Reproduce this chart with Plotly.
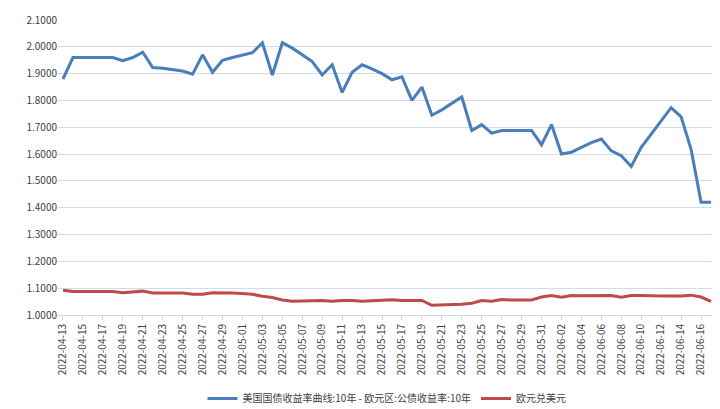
import plotly.graph_objects as go
import pandas as pd

dates = [d.strftime("%Y-%m-%d") for d in pd.date_range("2022-04-13", "2022-06-17")]
spread = [1.88, 1.96, 1.96, 1.96, 1.96, 1.96, 1.948, 1.96, 1.98, 1.923, 1.92, 1.915, 1.91, 1.898,
          1.97, 1.905, 1.95, 1.96, 1.97, 1.978, 2.015, 1.895, 2.015, 1.995, 1.97, 1.945, 1.895,
          1.933, 1.83, 1.905, 1.933, 1.918, 1.9, 1.877, 1.888, 1.80, 1.85, 1.745, 1.765, 1.79,
          1.813, 1.688, 1.71, 1.678, 1.688, 1.688, 1.688, 1.688, 1.635, 1.71, 1.60, 1.607, 1.625,
          1.643, 1.656, 1.612, 1.594, 1.554, 1.625, 1.675, 1.725, 1.773, 1.739, 1.618, 1.42, 1.42]
eurusd = [1.092, 1.088, 1.088, 1.088, 1.088, 1.088, 1.083, 1.085, 1.089, 1.082, 1.082, 1.082, 1.082,
          1.077, 1.077, 1.083, 1.083, 1.082, 1.08, 1.077, 1.07, 1.065, 1.056, 1.051, 1.052, 1.053,
          1.054, 1.051, 1.054, 1.054, 1.051, 1.053, 1.055, 1.057, 1.054, 1.054, 1.054, 1.036, 1.037,
          1.038, 1.04, 1.044, 1.054, 1.051, 1.058, 1.056, 1.056, 1.056, 1.067, 1.073, 1.066, 1.073,
          1.072, 1.072, 1.072, 1.073, 1.066, 1.073, 1.073, 1.071, 1.071, 1.071, 1.071, 1.074, 1.067, 1.051]
yticks = [1.0 + 0.1 * i for i in range(12)]
names = ["美国国债收益率曲线:10年 - 欧元区:公债收益率:10年", "欧元兑美元"]

fig = go.Figure()
fig.add_trace(go.Scatter(x=dates, y=spread, mode="lines", name=names[0],
                         line=dict(color="#4a7ebb", width=3)))
fig.add_trace(go.Scatter(x=dates, y=eurusd, mode="lines", name=names[1],
                         line=dict(color="#be4b48", width=3)))
fig.update_layout(
    width=720, height=409, margin=dict(l=50, r=12, t=12, b=102, autoexpand=False),
    plot_bgcolor="white", paper_bgcolor="white",
    font=dict(family="Noto Sans CJK SC, sans-serif", size=10, color="#404040"),
    legend=dict(orientation="h", x=0.5, xanchor="center", yref="container", y=0.01,
                yanchor="bottom", font=dict(size=10)),
    xaxis=dict(type="category", tickmode="array", tickvals=dates[::2], tickangle=-90,
               showgrid=False, showline=True, linecolor="#d0d7e5", ticks="outside",
               tickcolor="#d0d7e5", ticklen=4, range=[-0.5, len(dates) - 0.5], automargin=False),
    yaxis=dict(range=[1.0, 2.1], tickvals=yticks, tickformat=".4f", gridcolor="#d0dceb",
               zeroline=False, automargin=False),
)
fig.write_html("out.html")
